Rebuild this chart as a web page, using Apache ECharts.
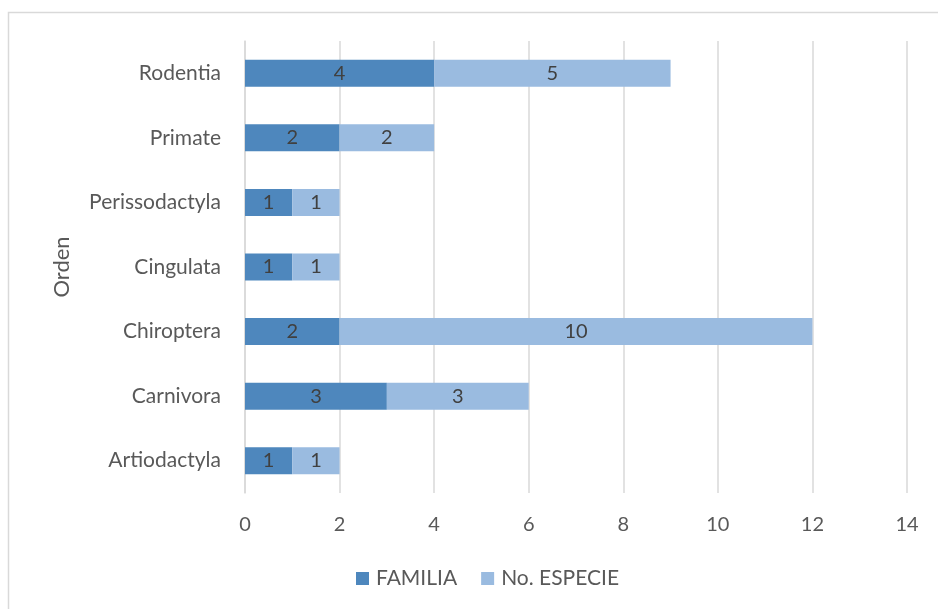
<!DOCTYPE html>
<html><head><meta charset="utf-8">
<script src="https://cdn.jsdelivr.net/npm/echarts@6/dist/echarts.min.js"></script>
<style>html,body{margin:0;padding:0;background:#fff}#c{width:938px;height:609px}</style>
</head><body><div id="c"></div>
<script>
const categories = ['Artiodactyla','Carnivora','Chiroptera','Cingulata','Perissodactyla','Primate','Rodentia'];
const familia = [1,3,2,1,1,2,4];
const especie = [1,3,10,1,1,2,5];
const xTicks = {min:0,max:14,interval:2};
const FONT = 'Lato, "Open Sans", sans-serif';
const chart = echarts.init(document.getElementById('c'));
const lbl = {show:true,position:'inside',color:'#404040',fontSize:20,fontFamily:FONT};
chart.setOption({
  animation:false,
  graphic:[{type:'rect',shape:{x:8.5,y:12.5,width:940,height:620},style:{fill:'none',stroke:'#d9d9d9',lineWidth:1.5},z:-1}],
  grid:{left:245,right:31,top:41,bottom:116},
  xAxis:{type:'value',min:xTicks.min,max:xTicks.max,interval:xTicks.interval,
    axisLine:{show:false},axisTick:{show:false},
    splitLine:{lineStyle:{color:'#d9d9d9',width:1.5}},
    axisLabel:{color:'#595959',fontSize:20,fontFamily:FONT,margin:22}},
  yAxis:{type:'category',data:categories,name:'Orden',nameLocation:'middle',nameGap:172,
    nameTextStyle:{color:'#595959',fontSize:22,fontFamily:FONT},
    axisLine:{lineStyle:{color:'#d9d9d9',width:1.5}},axisTick:{show:false},
    axisLabel:{color:'#595959',fontSize:21,fontFamily:FONT,margin:24}},
  legend:{bottom:15,left:351,itemWidth:13,itemHeight:13,itemGap:24,
    icon:'rect',textStyle:{color:'#595959',fontSize:21,fontFamily:FONT,padding:[0,0,0,2]},
    data:['FAMILIA','No. ESPECIE']},
  series:[
    {name:'FAMILIA',type:'bar',stack:'s',data:familia,barWidth:27,itemStyle:{color:'#4e87bd'},label:lbl},
    {name:'No. ESPECIE',type:'bar',stack:'s',data:especie,barWidth:27,itemStyle:{color:'#9abbe0'},label:lbl}
  ]
});
</script></body></html>
